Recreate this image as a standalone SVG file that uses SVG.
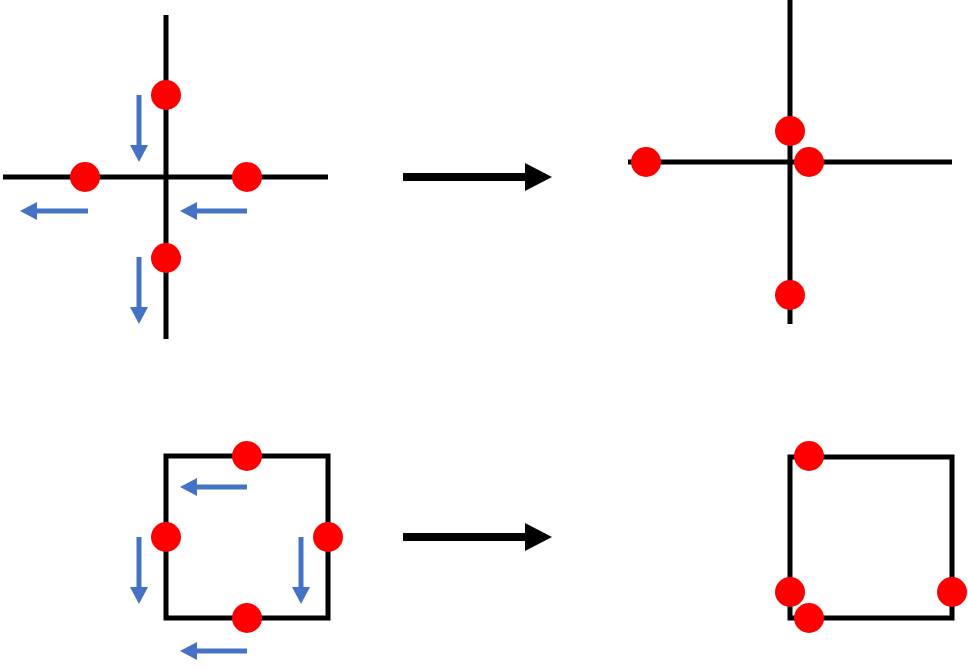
<svg xmlns="http://www.w3.org/2000/svg" width="968" height="670" viewBox="0 0 968 670">
<style>
.ln{stroke:#000;stroke-width:5;fill:none}
.dot{fill:#ff0000}
.ba{stroke:#4472C4;stroke-width:5;fill:none}
.bh{fill:#4472C4}
.big{stroke:#000;stroke-width:8}
</style>
<rect width="968" height="670" fill="#fff"/>
<g id="cross-before">
<line class="ln" x1="166" y1="15" x2="166" y2="339"/>
<line class="ln" x1="3" y1="177" x2="328" y2="177"/>
<circle class="dot" cx="166" cy="95" r="15"/>
<circle class="dot" cx="85" cy="177" r="15"/>
<circle class="dot" cx="247" cy="177" r="15"/>
<circle class="dot" cx="166" cy="258" r="15"/>
</g>
<g id="cross-after">
<line class="ln" x1="790" y1="0" x2="790" y2="324"/>
<line class="ln" x1="628" y1="162" x2="952" y2="162"/>
<circle class="dot" cx="790" cy="131" r="15"/>
<circle class="dot" cx="646" cy="162" r="15"/>
<circle class="dot" cx="809" cy="162" r="15"/>
<circle class="dot" cx="790" cy="295" r="15"/>
</g>
<g id="square-before">
<rect class="ln" x="166" y="456" width="162" height="162"/>
<circle class="dot" cx="247" cy="456" r="15"/>
<circle class="dot" cx="166" cy="537" r="15"/>
<circle class="dot" cx="328" cy="537" r="15"/>
<circle class="dot" cx="247" cy="618" r="15"/>
</g>
<g id="square-after">
<rect class="ln" x="790" y="457" width="162" height="161"/>
<circle class="dot" cx="809" cy="456" r="15"/>
<circle class="dot" cx="790" cy="592" r="15"/>
<circle class="dot" cx="952" cy="592" r="15"/>
<circle class="dot" cx="809" cy="618" r="15"/>
</g>
<g id="connectors">
<!-- blue arrows top -->
<line class="ba" x1="139" y1="95" x2="139" y2="147"/>
<polygon class="bh" points="130,145 148,145 139,162"/>
<line class="ba" x1="88" y1="211" x2="35" y2="211"/>
<polygon class="bh" points="37,202 37,220 20,211"/>
<line class="ba" x1="247" y1="211" x2="195" y2="211"/>
<polygon class="bh" points="197,202 197,220 180,211"/>
<line class="ba" x1="139" y1="257" x2="139" y2="309"/>
<polygon class="bh" points="130,307 148,307 139,324"/>
<!-- blue arrows bottom -->
<line class="ba" x1="247" y1="487" x2="195" y2="487"/>
<polygon class="bh" points="197,478 197,496 180,487"/>
<line class="ba" x1="139" y1="537" x2="139" y2="589"/>
<polygon class="bh" points="130,587 148,587 139,604"/>
<line class="ba" x1="301" y1="537" x2="301" y2="589"/>
<polygon class="bh" points="292,587 310,587 301,604"/>
<line class="ba" x1="247" y1="651" x2="195" y2="651"/>
<polygon class="bh" points="197,642 197,660 180,651"/>
<!-- big black arrows -->
<line class="big" x1="403" y1="177" x2="527" y2="177"/>
<polygon points="525,163 525,191 552,177" fill="#000"/>
<line class="big" x1="403" y1="537" x2="527" y2="537"/>
<polygon points="525,523 525,551 552,537" fill="#000"/>
</g>
</svg>
